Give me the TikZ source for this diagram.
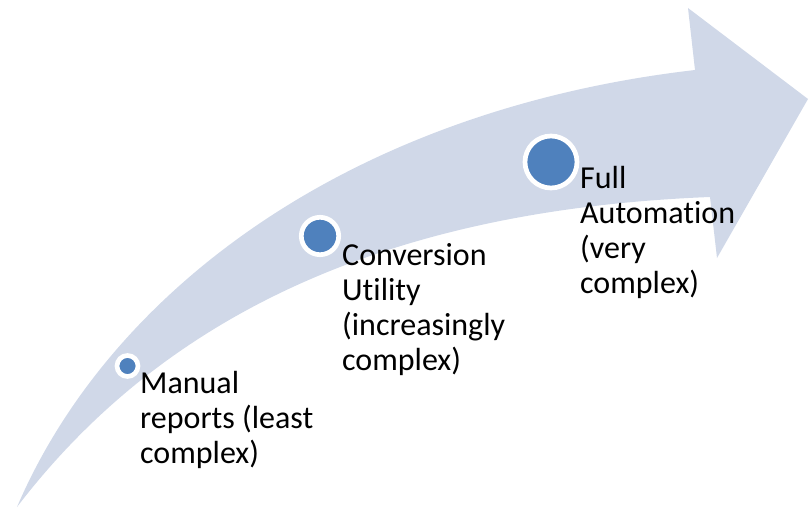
\documentclass[tikz,border=0pt]{standalone}
\usepackage{fontspec}
\setmainfont[Ligatures=NoCommon]{Carlito}
\definecolor{bandblue}{HTML}{D0D8E8}
\definecolor{dotblue}{HTML}{4F81BD}
\tikzstyle{band} = [fill=bandblue, draw=none]
\tikzstyle{stagedot} = [circle, fill=dotblue, draw=white, line width=4.7pt, inner sep=0pt]
\tikzstyle{stagetext} = [anchor=north west, align=left, inner sep=0pt, font=\fontsize{32}{35}\selectfont]

\begin{document}
\begin{tikzpicture}[x=1pt,y=-1pt]
            \useasboundingbox (0,0) rectangle (809,508);
            \path [band] (17,507) .. controls (110,290) and (350,110) .. (695,70) -- (688,8) -- (808,99) -- (717,258) -- (710,197) .. controls (380,210) and (160,320) .. (17,507) -- cycle;
            \node [stagedot, minimum size=21pt] at (127.5,366) (manual) {};
            \node [stagedot, minimum size=37.4pt] at (320,236) (conversion) {};
            \node [stagedot, minimum size=52pt] at (551,162) (automation) {};
            \node [stagetext] at (140,371) (manualtext) {Manual\\reports (least\\complex)};
            \node [stagetext] at (342,243) (conversiontext) {Conversion\\Utility\\(increasingly\\complex)};
            \node [stagetext] at (580,166) (automationtext) {Full\\Automation\\(very\\complex)};
            \end{tikzpicture}
\end{document}
